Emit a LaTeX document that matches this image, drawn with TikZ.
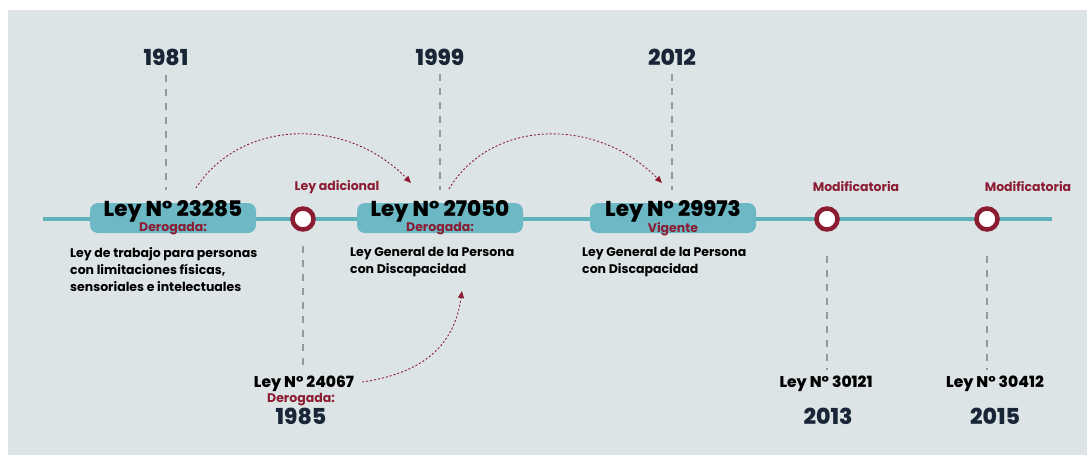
\documentclass[tikz,border=0pt]{standalone}
\usepackage{fontspec}
\setmainfont{Poppins}
\newfontfamily\heavyfont{Poppins ExtraBold}
\usetikzlibrary{arrows.meta}

\definecolor{panelbg}{RGB}{221,228,230}
\definecolor{lineteal}{RGB}{96,178,186}
\definecolor{boxteal}{RGB}{108,184,196}
\definecolor{lawred}{RGB}{139,28,50}
\definecolor{navy}{RGB}{24,38,56}
\definecolor{guidegray}{RGB}{150,152,154}

\tikzset{
    yearlabel/.style={font=\heavyfont\fontsize{22}{22}\selectfont, text=navy, inner sep=1pt},
    lawbox/.style={fill=boxteal, rounded corners=8pt, minimum width=166pt, minimum height=30pt, inner sep=0pt},
    lawtitle/.style={font=\heavyfont\fontsize{21.5}{22}\selectfont, text=black, inner sep=0pt},
    lawstatus/.style={font=\bfseries\fontsize{12.5}{13}\selectfont, text=lawred, inner sep=0pt},
    lawtext/.style={font=\bfseries\fontsize{12.5}{17}\selectfont, text=black, align=left, anchor=north west, inner sep=0pt},
    lawsmall/.style={font=\heavyfont\fontsize{15.5}{16}\selectfont, text=black, inner sep=0pt},
    ring/.style={circle, draw=lawred, line width=4.5pt, fill=white, minimum size=21pt, inner sep=0pt},
    guide/.style={guidegray, line width=1.2pt, dash pattern=on 7pt off 7pt},
    jump/.style={lawred, line width=0.9pt, dash pattern=on 2pt off 2pt, -{Triangle[length=7pt,width=6pt]}},
}

\begin{document}
\begin{tikzpicture}[x=1pt,y=-1pt]
    \useasboundingbox (0,0) rectangle (1087,455);
    \fill[white] (0,0) rectangle (1087,455);
    \fill[panelbg] (8,10) rectangle (1087,455);

    % timeline
    \draw[lineteal, line width=3.5pt] (43,219) coordinate (tstart) -- (1052,219) coordinate (tend);

    % laws on the line
    \node [lawbox] (ley1) at (173,218) {};
    \node [lawtitle] (ley1t) at (173,211) {Ley N° 23285};
    \node [lawstatus] (ley1s) at (173,229) {Derogada:};

    \node [lawbox] (ley2) at (440,218) {};
    \node [lawtitle] (ley2t) at (440,211) {Ley N° 27050};
    \node [lawstatus] (ley2s) at (440,229) {Derogada:};

    \node [lawbox] (ley3) at (673,218) {};
    \node [lawtitle] (ley3t) at (673,211) {Ley N° 29973};
    \node [lawstatus] (ley3s) at (673,229) {Vigente};

    \node [ring] (c1) at (303,219) {};
    \node [ring] (c2) at (827,219) {};
    \node [ring] (c3) at (987,219) {};

    \node [lawstatus] (add1) at (337,187) {Ley adicional};
    \node [lawstatus] (mod1) at (856,187) {Modificatoria};
    \node [lawstatus] (mod2) at (1028,187) {Modificatoria};

    % years above
    \node [yearlabel] (y1981) at (166,57) {1981};
    \node [yearlabel] (y1999) at (440,57) {1999};
    \node [yearlabel] (y2012) at (672,57) {2012};

    \draw[guide, shorten <=8pt, shorten >=13pt] (y1981) -- (y1981 |- ley1.north);
    \draw[guide, shorten <=8pt, shorten >=13pt] (y1999) -- (y1999 |- ley2.north);
    \draw[guide, shorten <=8pt, shorten >=13pt] (y2012) -- (y2012 |- ley3.north);

    % descriptions
    \node [lawtext] (d1) at (70,247) {Ley de trabajo para personas\\con limitaciones físicas,\\sensoriales e intelectuales};
    \node [lawtext] (d2) at (350,247) {Ley General de la Persona\\con Discapacidad};
    \node [lawtext] (d3) at (582,247) {Ley General de la Persona\\con Discapacidad};

    % laws below
    \node [lawsmall] (l24067) at (304,384) {Ley N° 24067};
    \node [lawstatus] (l24067s) at (301,400) {Derogada:};
    \node [yearlabel] (y1985) at (301,416) {1985};

    \node [lawsmall] (l30121) at (826,384) {Ley N° 30121};
    \node [yearlabel] (y2013) at (828,416) {2013};

    \node [lawsmall] (l30412) at (995,384) {Ley N° 30412};
    \node [yearlabel] (y2015) at (995,416) {2015};

    \draw[guide, shorten <=14pt, shorten >=6pt] (c1) -- (c1 |- l24067.north);
    \draw[guide, shorten <=24pt, shorten >=6pt] (c2) -- (c2 |- l30121.north);
    \draw[guide, shorten <=24pt, shorten >=6pt] (c3) -- (c3 |- l30412.north);

    % jumps between laws
    \coordinate (j1a) at (196,188);
    \coordinate (j1b) at (411,183);
    \coordinate (j2a) at (449,189);
    \coordinate (j2b) at (662,183);
    \coordinate (j3b) at (462,291);
    \draw[jump] (j1a) .. controls (240,120) and (345,115) .. (j1b);
    \draw[jump] (j2a) .. controls (490,120) and (595,115) .. (j2b);
    \draw[jump] (l24067.east) ++(8,-2) .. controls (430,372) and (455,340) .. (j3b);
\end{tikzpicture}
\end{document}
